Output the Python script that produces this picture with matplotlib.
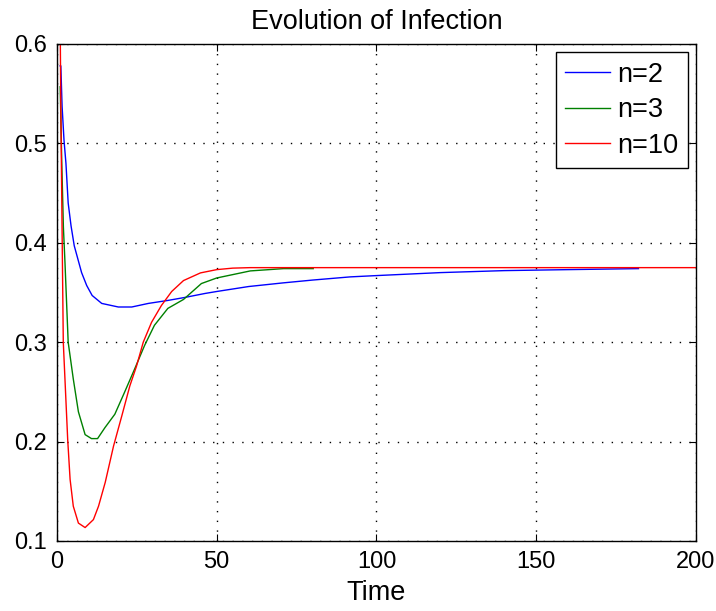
import matplotlib
matplotlib.use("Agg")
import matplotlib.pyplot as plt

# Data
tBlue = [1, 1.2, 1.6, 2.2, 2.8, 3.5, 4.4, 5.4, 7.7, 9.3, 11, 14, 19.2, 23.4, 28.6, 34.7, 40, 46.3, 50, 60, 70.9, 80, 91.8, 100, 120, 140, 160, 182]
yBlue = [0.578, 0.578, 0.537, 0.503, 0.480, 0.440, 0.417, 0.397, 0.370, 0.357, 0.347, 0.339, 0.3354, 0.3354, 0.339, 0.342, 0.345, 0.349, 0.351, 0.356, 0.3597, 0.3625, 0.3657, 0.367, 0.370, 0.372, 0.373, 0.374]

tGreen = [1, 1.5, 2.0, 2.5, 3.0, 3.5, 5.1, 6.7, 8.8, 10.8, 12.7, 15, 18.1, 21.2, 24.3, 27.4, 30.5, 34.7, 39.6, 45.2, 50, 60.5, 70.9, 80.2]
yGreen = [0.557, 0.480, 0.416, 0.380, 0.340, 0.300, 0.263, 0.230, 0.207, 0.203, 0.203, 0.214, 0.2275, 0.250, 0.273, 0.2966, 0.317, 0.334, 0.343, 0.359, 0.3646, 0.3717, 0.374, 0.374]

tRed = [1, 1.2, 1.6, 1.97, 3.35, 4.1, 5.1, 6.7, 8.8, 11.4, 13, 15.1, 17.7, 20.3, 22.8, 24.9, 27, 29.6, 32.7, 35.9, 39.6, 44.9, 50, 55, 60.5, 100, 150, 200]
yRed = [0.620, 0.537, 0.410, 0.300, 0.202, 0.162, 0.135, 0.118, 0.1135, 0.1215, 0.135, 0.159, 0.1955, 0.226, 0.256, 0.276, 0.300, 0.320, 0.337, 0.351, 0.362, 0.3697, 0.373, 0.3745, 0.375, 0.375, 0.375, 0.375]

labels = ["n=2", "n=3", "n=10"]
xTicks = [0, 50, 100, 150, 200]
yTicks = [0.1, 0.2, 0.3, 0.4, 0.5, 0.6]

plt.rcParams['font.family'] = ['Liberation Sans', 'DejaVu Sans']

fig = plt.figure(figsize=(7.16, 6.11), dpi=100)
ax = fig.add_axes([0.0796, 0.1146, 0.8924, 0.8134])

ax.plot(tBlue, yBlue, color=(0, 0, 1), lw=1.0, label=labels[0])
ax.plot(tGreen, yGreen, color=(0, 0.5, 0), lw=1.0, label=labels[1])
ax.plot(tRed, yRed, color=(1, 0, 0), lw=1.0, label=labels[2])

ax.set_xlim(0, 200)
ax.set_ylim(0.1, 0.6)
ax.set_xticks(xTicks)
ax.set_yticks(yTicks)
ax.set_yticklabels([f"{v:.1f}" for v in yTicks])
ax.tick_params(direction='in', length=5, width=0.8, top=True, right=True, labelsize=17, pad=7)
ax.grid(True, linestyle=(0, (1, 6)), color='black', lw=1.0)
for s in ax.spines.values():
    s.set_linewidth(1.0)

ax.set_title("Evolution of Infection", fontsize=19.5, pad=11)
ax.set_xlabel("Time", fontsize=19.5, labelpad=5)

leg = ax.legend(loc='upper right', fontsize=19.5, fancybox=False, edgecolor='black',
                framealpha=1, handlelength=1.67, handletextpad=0.25, borderpad=0.35,
                labelspacing=0.35, borderaxespad=0.3)
leg.get_frame().set_linewidth(1.0)

fig.savefig("out.png", dpi=100)
